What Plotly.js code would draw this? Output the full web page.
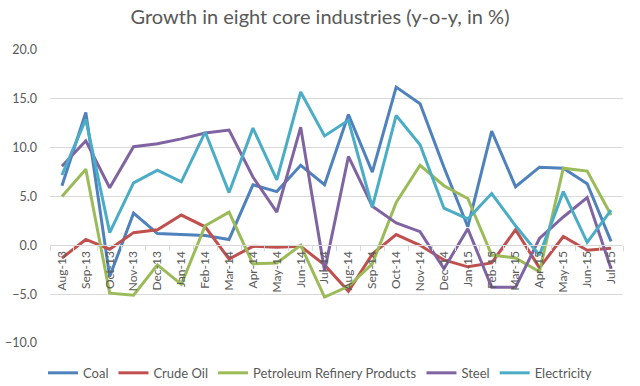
<!DOCTYPE html>
<html>
<head>
<meta charset="utf-8">
<script src="https://cdn.plot.ly/plotly-3.0.1.min.js"></script>
<style>html,body{margin:0;padding:0;background:#fff;}#chart{width:640px;height:386px;}</style>
</head>
<body>
<div id="chart"></div>
<script>
const months = ["Aug-13","Sep-13","Oct-13","Nov-13","Dec-13","Jan-14","Feb-14","Mar-14","Apr-14","May-14","Jun-14","Jul-14","Aug-14","Sep-14","Oct-14","Nov-14","Dec-14","Jan-15","Feb-15","Mar-15","Apr-15","May-15","Jun-15","Jul-15"];
const coal        = [6.1, 13.6, -3.2, 3.3, 1.2, 1.1, 1.0, 0.6, 6.2, 5.5, 8.2, 6.2, 13.4, 7.5, 16.2, 14.5, 8.0, 1.9, 11.7, 6.0, 8.0, 7.9, 6.3, 0.4];
const crudeOil    = [-1.3, 0.6, -0.4, 1.3, 1.6, 3.1, 1.9, -1.4, -0.1, -0.2, -0.1, -2.0, -4.7, -0.9, 1.1, 0.0, -1.5, -2.2, -1.8, 1.6, -2.3, 0.9, -0.5, -0.3];
const petroleum   = [5.0, 7.8, -4.9, -5.1, -2.0, -4.0, 2.0, 3.4, -1.9, -1.8, 0.0, -5.3, -4.2, -1.9, 4.4, 8.2, 6.1, 4.8, -1.0, -1.3, -2.7, 7.9, 7.6, 3.1];
const steel       = [8.1, 10.7, 5.9, 10.1, 10.4, 10.9, 11.5, 11.8, 7.0, 3.4, 12.1, -2.6, 9.1, 4.0, 2.3, 1.4, -2.4, 1.7, -4.3, -4.3, 0.7, 2.9, 4.9, -2.4];
const electricity = [7.2, 12.9, 1.3, 6.4, 7.7, 6.5, 11.6, 5.4, 12.0, 6.7, 15.7, 11.2, 12.8, 3.9, 13.3, 10.3, 3.8, 2.7, 5.3, 2.0, -1.0, 5.5, 0.3, 3.6];
const seriesNames = ["Coal","Crude Oil","Petroleum Refinery Products","Steel","Electricity"];
const colors = ["#4F81BD","#C0504D","#9BBB59","#8064A2","#4BACC6"];
const yTicks = [-10, -5, 0, 5, 10, 15, 20];

const data = [coal, crudeOil, petroleum, steel, electricity].map((vals, i) => ({
  type: "scatter", mode: "lines", name: seriesNames[i], x: months, y: vals,
  line: {color: colors[i], width: 3}
}));

const font = "Lato, 'Open Sans', sans-serif";
const layout = {
  width: 640, height: 386,
  paper_bgcolor: "#fff", plot_bgcolor: "#fff",
  margin: {l: 50, r: 17, t: 50, b: 43, autoexpand: false},
  font: {family: font, color: "#595959", size: 12},
  title: {text: "Growth in eight core industries (y-o-y, in %)", xref: "container", x: 0.5, xanchor: "center", yref: "container", y: 0.955, yanchor: "middle", font: {family: font, size: 20, color: "#595959"}},
  showlegend: true,
  legend: {orientation: "h", xref: "container", x: 0.5, xanchor: "center", yref: "container", y: 0.034, yanchor: "middle", font: {family: font, size: 13, color: "#595959"}, itemwidth: 30, tracegroupgap: 0},
  xaxis: {type: "category", anchor: "free", position: 1/3, tickangle: -90, automargin: false,
    ticks: "outside", tickson: "boundaries", ticklen: 5, tickcolor: "#d9d9d9",
    showline: true, linecolor: "#d9d9d9", linewidth: 1, showgrid: false, zeroline: false,
    tickfont: {family: font, size: 12, color: "#595959"}, range: [-0.5, 23.5], fixedrange: true},
  yaxis: {range: [-10, 20], tickvals: yTicks, tickformat: ".1f", showgrid: true, gridcolor: "#d9d9d9", gridwidth: 1,
    zeroline: false, showline: false, ticks: "", ticklabelstandoff: 12, automargin: false,
    tickfont: {family: font, size: 12.5, color: "#595959"}, fixedrange: true}
};
Plotly.newPlot("chart", data, layout, {displayModeBar: false, staticPlot: true});
</script>
</body>
</html>
